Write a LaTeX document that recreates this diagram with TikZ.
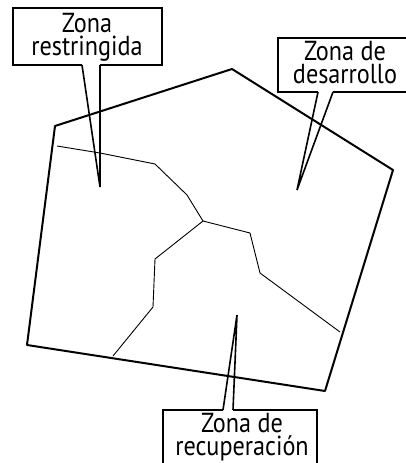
\documentclass[tikz,border=0pt]{standalone}
\usepackage{fontspec}
\setmainfont{PT Sans}[FakeStretch=0.88]
\begin{document}
\begin{tikzpicture}[x=1pt,y=-1pt,
  edge/.style={line width=2pt,line join=round,line cap=round},
  inner/.style={line width=0.9pt,line join=round},
  callout/.style={line width=1.6pt,line join=miter},
  lbl/.style={inner sep=0pt,align=center,font=\fontsize{27.5}{22.5}\selectfont,anchor=base}]
\useasboundingbox (0,0) rectangle (405,463);
% region outline
\coordinate (tl) at (55,126);
\coordinate (tp) at (232,69);
\coordinate (rt) at (393,170);
\coordinate (br) at (325,391);
\coordinate (bl) at (27,345);
\draw[edge] (tl) -- (tp) -- (rt) -- (br) -- (bl) -- cycle;
% inner borders
\coordinate (j) at (203,221);
\coordinate (a1) at (57,146);
\coordinate (a4) at (340,332);
\coordinate (a7) at (113,356);
\draw[inner] (a1) -- (100,153) -- (155,164) -- (187,195) -- (j);
\draw[inner] (j) -- (250,233) -- (260,273) -- (a4);
\draw[inner] (j) -- (155,259) -- (153,307) -- (a7);
% callout 1
\draw[callout] (82,65) -- (13,65) -- (13,8) -- (162,8) -- (162,65) -- (100,65);
\coordinate (p1) at (100,187);
\draw[callout] (82,65) -- (p1) -- (100,65);
\node[lbl] (r) at (87,55) {Zona\\restringida};
% callout 2
\draw[callout] (318,92) -- (278,92) -- (278,38) -- (406,38);
\draw[callout] (406,92) -- (333,92);
\coordinate (p2) at (297,190);
\draw[callout] (318,92) -- (p2) -- (333,92);
\node[lbl] (d) at (345,83) {Zona de\\desarrollo};
% callout 3
\draw[callout] (223,410) -- (163,410) -- (163,464);
\draw[callout] (233,410) -- (317,410) -- (317,464);
\coordinate (p3) at (237,315);
\draw[callout] (223,410) -- (p3) -- (233,410);
\node[lbl] (c) at (242,455) {Zona de\\recuperación};
\end{tikzpicture}
\end{document}
